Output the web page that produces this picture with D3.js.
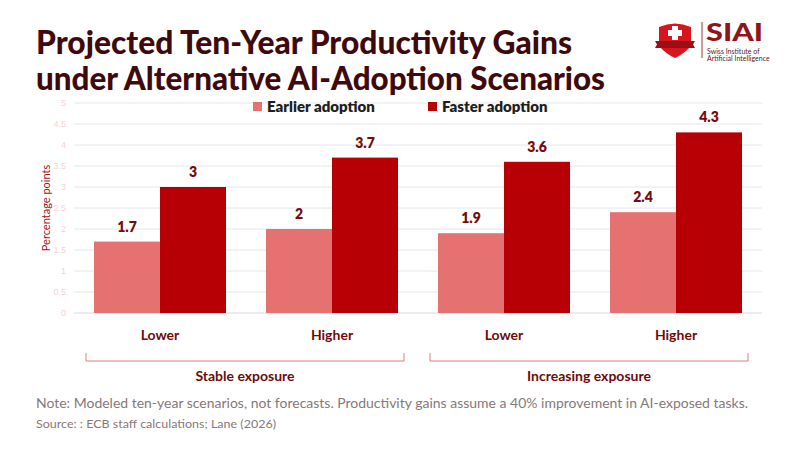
<!DOCTYPE html>
<html>
<head>
<meta charset="utf-8">
<script src="https://cdn.jsdelivr.net/npm/d3@7"></script>
<style>
  body { margin: 0; background: #fff; }
  svg { font-family: "Lato", "Open Sans", sans-serif; }
</style>
</head>
<body>
<div id="chart"></div>
<script>
// data
var scenarios = ["Lower", "Higher", "Lower", "Higher"];
var exposureGroups = ["Stable exposure", "Increasing exposure"];
var seriesNames = ["Earlier adoption", "Faster adoption"];
var earlierAdoption = [1.7, 2, 1.9, 2.4];
var fasterAdoption = [3, 3.7, 3.6, 4.3];
var yTicks = [0, 0.5, 1, 1.5, 2, 2.5, 3, 3.5, 4, 4.5, 5];

var width = 800, height = 450;
var colors = ["#e57171", "#b70006"];

var svg = d3.select("#chart").append("svg")
    .attr("width", width)
    .attr("height", height);

// title
var title = svg.append("g").attr("fill", "#3f0a0c")
    .attr("font-weight", 900).attr("font-size", 32);
title.append("text").attr("x", 36).attr("y", 54)
    .attr("textLength", 536).attr("lengthAdjust", "spacingAndGlyphs")
    .text("Projected Ten-Year Productivity Gains");
title.append("text").attr("x", 36).attr("y", 90)
    .attr("textLength", 569).attr("lengthAdjust", "spacingAndGlyphs")
    .text("under Alternative AI-Adoption Scenarios");

// scales
var x0 = d3.scaleBand()
    .domain(d3.range(scenarios.length))
    .range([74, 762])
    .paddingInner(0.2326)
    .paddingOuter(0.1163);

var x1 = d3.scaleBand()
    .domain(seriesNames)
    .range([0, x0.bandwidth()]);

var y = d3.scaleLinear()
    .domain([0, 5])
    .range([313, 103]);

// grid
svg.append("g").selectAll("line")
    .data(yTicks)
    .enter().append("line")
    .attr("x1", 74).attr("x2", 762)
    .attr("y1", function (d) { return y(d); })
    .attr("y2", function (d) { return y(d); })
    .attr("stroke", function (d) { return d === 0 ? "#d8d8e0" : "#e6e6ee"; })
    .attr("stroke-width", 1);

var yAxis = svg.append("g")
    .attr("transform", "translate(70,0)")
    .call(d3.axisLeft(y).tickValues(yTicks).tickSize(0).tickPadding(4)
        .tickFormat(d3.format("")));
yAxis.select(".domain").remove();
yAxis.selectAll("text")
    .attr("fill", "#f6d2d2")
    .attr("font-size", 9);

svg.append("text")
    .attr("transform", "translate(50,208) rotate(-90)")
    .attr("text-anchor", "middle")
    .attr("fill", "#a31515")
    .attr("font-size", 11)
    .text("Percentage points");

// legend
var legend = svg.append("g").selectAll("g")
    .data(seriesNames)
    .enter().append("g")
    .attr("transform", function (d, i) { return "translate(" + [253, 428][i] + ",102)"; });
legend.append("rect")
    .attr("width", 9).attr("height", 9)
    .attr("fill", function (d, i) { return colors[i]; });
legend.append("text")
    .attr("x", 14).attr("y", 10)
    .attr("font-size", 15).attr("font-weight", 800)
    .attr("fill", "#1e1e1e")
    .text(function (d) { return d; });

// bars
var rows = scenarios.map(function (s, i) {
    return { i: i, values: [earlierAdoption[i], fasterAdoption[i]] };
});

var grp = svg.append("g").selectAll("g")
    .data(rows)
    .enter().append("g")
    .attr("transform", function (d) { return "translate(" + x0(d.i) + ",0)"; });

var bar = grp.selectAll("g")
    .data(function (d) {
        return d.values.map(function (v, k) { return { name: seriesNames[k], k: k, value: v }; });
    })
    .enter().append("g");

bar.append("rect")
    .attr("x", function (d) { return x1(d.name); })
    .attr("y", function (d) { return y(d.value); })
    .attr("width", x1.bandwidth())
    .attr("height", function (d) { return y(0) - y(d.value); })
    .attr("fill", function (d) { return colors[d.k]; });

bar.append("text")
    .attr("x", function (d) { return x1(d.name) + x1.bandwidth() / 2; })
    .attr("y", function (d) { return y(d.value) - 10; })
    .attr("text-anchor", "middle")
    .attr("font-size", 14).attr("font-weight", 800)
    .attr("fill", "#760b0e")
    .text(function (d) { return d.value; });

// category labels
svg.append("g").selectAll("text")
    .data(scenarios)
    .enter().append("text")
    .attr("x", function (d, i) { return x0(i) + x0.bandwidth() / 2; })
    .attr("y", 340)
    .attr("text-anchor", "middle")
    .attr("font-size", 14).attr("font-weight", 700)
    .attr("fill", "#6e0a0d")
    .text(function (d) { return d; });

// group brackets
var brackets = svg.append("g").selectAll("g")
    .data(exposureGroups)
    .enter().append("g");

function pairLeft(g) { return x0(g * 2) - 8; }
function pairRight(g) { return x0(g * 2 + 1) + x0.bandwidth() + 6; }

brackets.append("path")
    .attr("d", function (d, g) {
        return "M" + pairLeft(g) + ",353V361H" + pairRight(g) + "V353";
    })
    .attr("fill", "none")
    .attr("stroke", "#e37a7a")
    .attr("stroke-width", 1);

brackets.append("text")
    .attr("x", function (d, g) { return (pairLeft(g) + pairRight(g)) / 2; })
    .attr("y", 381)
    .attr("text-anchor", "middle")
    .attr("font-size", 14).attr("font-weight", 700)
    .attr("fill", "#6e0a0d")
    .text(function (d) { return d; });

// notes
svg.append("text")
    .attr("x", 36).attr("y", 408)
    .attr("font-size", 14).attr("fill", "#86787a")
    .attr("textLength", 712).attr("lengthAdjust", "spacingAndGlyphs")
    .text("Note: Modeled ten-year scenarios, not forecasts. Productivity gains assume a 40% improvement in AI-exposed tasks.");
svg.append("text")
    .attr("x", 36).attr("y", 428)
    .attr("font-size", 12).attr("fill", "#86787a")
    .attr("textLength", 240).attr("lengthAdjust", "spacingAndGlyphs")
    .text("Source: : ECB staff calculations; Lane (2026)");

// logo
var logo = svg.append("g");
logo.append("path")
    .attr("d", "M659,27 Q675,20 691,27 L691,46 Q684,54 675,58 Q666,54 659,46 Z")
    .attr("fill", "#d8141c");
logo.append("path")
    .attr("d", "M672,26h6v4h4v6h-4v4h-6v-4h-4v-6h4z")
    .attr("fill", "#fff");
logo.append("path")
    .attr("d", "M655,41 L695,41 L693,44.5 L695,48 L655,48 L657,44.5 Z")
    .attr("fill", "#9c0e14");
logo.append("line")
    .attr("x1", 702).attr("x2", 702).attr("y1", 22).attr("y2", 58)
    .attr("stroke", "#9a3a3a").attr("stroke-width", 1);
logo.append("text")
    .attr("x", 706).attr("y", 41)
    .attr("font-size", 25).attr("font-weight", 900)
    .attr("fill", "#8e1519")
    .attr("textLength", 57).attr("lengthAdjust", "spacingAndGlyphs")
    .text("SIAI");
logo.append("text")
    .attr("x", 707).attr("y", 53.5)
    .attr("font-size", 7).attr("fill", "#5a1a1a")
    .text("Swiss Institute of");
logo.append("text")
    .attr("x", 707).attr("y", 60.5)
    .attr("font-size", 7).attr("fill", "#5a1a1a")
    .text("Artificial Intelligence");
</script>
</body>
</html>
